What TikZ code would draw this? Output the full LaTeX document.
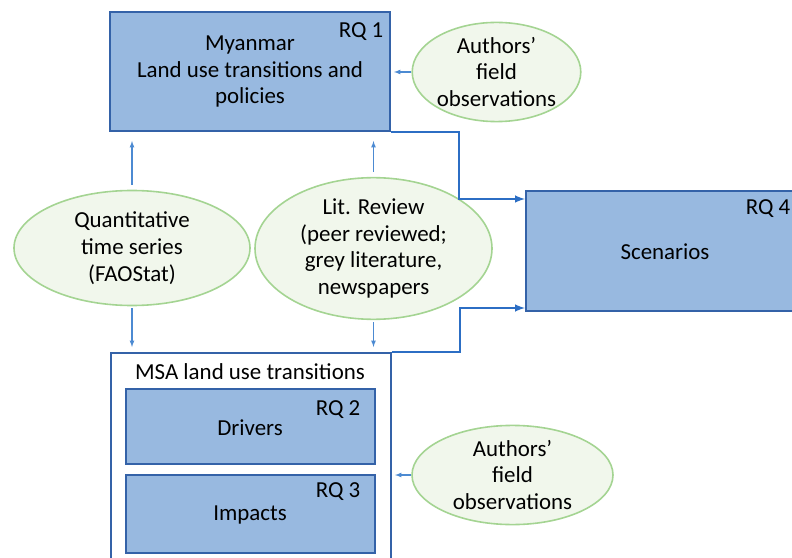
\documentclass[tikz,border=0pt]{standalone}
\usepackage{fontspec}
\setmainfont{Carlito}
\usetikzlibrary{shapes.geometric}
\definecolor{boxfill}{RGB}{152,185,224}
\definecolor{boxline}{RGB}{52,98,168}
\definecolor{linkblue}{RGB}{44,110,196}
\definecolor{arrblue}{RGB}{76,138,210}
\definecolor{ovalfill}{RGB}{241,247,236}
\definecolor{ovalline}{RGB}{164,212,146}

\begin{document}
\begin{tikzpicture}[x=1bp,y=-1bp,
	every node/.style={font=\fontsize{23}{27}\selectfont, align=center, inner sep=0pt},
	rq/.style={fill=boxfill, draw=boxline, line width=2bp},
	frame/.style={fill=white, draw=boxline, line width=2bp},
	oval/.style={ellipse, fill=ovalfill, draw=ovalline, line width=1.6bp},
	link/.style={draw=linkblue, line width=2.4bp, -latex},
	feed/.style={draw=arrblue, line width=1.2bp, -latex}]
	\useasboundingbox (0,0) rectangle (792,558);

	% top box and its sources
	\node (myan) [rq, minimum width=280bp, minimum height=119bp] at (250,71.5) {Myanmar\\Land use transitions and\\policies};
	\node (rq1) at (361,32) {RQ 1};
	\node (field1) [oval, minimum width=167bp, minimum height=96bp] at (496.5,72) {Authors'\\field\\observations};
	\draw[feed, shorten >=3bp] (field1.west) -- (myan.east |- field1.west);

	\node (quant) [oval, minimum width=236bp, minimum height=115bp] at (132,248) {Quantitative\\time series\\(FAOStat)};
	\node (lit) [oval, minimum width=237bp, minimum height=113bp] at (373.5,248.5) {Lit. Review\\(peer reviewed;\\grey literature,\\newspapers};

	% bottom box
	\node (msa) [frame, minimum width=280bp, minimum height=218bp, anchor=north west] at (110,352) {};
	\node (msatitle) at (250,372) {MSA land use transitions};
	\node (drv) [rq, minimum width=249bp, minimum height=75bp] at (250.5,426.5) {};
	\node at (250,428) {Drivers};
	\node (rq2) at (338,410) {RQ 2};
	\node (imp) [rq, minimum width=249bp, minimum height=78bp] at (250.5,514) {};
	\node at (250,515) {Impacts};
	\node (rq3) at (338,492) {RQ 3};
	\node (field2) [oval, minimum width=201bp, minimum height=94bp] at (512.5,475) {Authors'\\field\\observations};
	\draw[feed, shorten >=3bp] (field2.west) -- (msa.east |- field2.west);

	% scenarios
	\node (scen) [rq, minimum width=280bp, minimum height=120bp, anchor=north west] at (525,190) {};
	\node at (665,252) {Scenarios};
	\node (rq4) at (768,209) {RQ 4};

	% arrows
	\foreach \src in {quant, lit} {
		\draw[feed, shorten <=5bp, shorten >=9bp] (\src.north) -- (\src.north |- myan.south);
		\draw[feed, shorten <=2bp, shorten >=5bp] (\src.south) -- (\src.south |- msa.north);
	}
	\draw[link] (myan.south east) -- ++(68,0) |- ([yshift=52bp]scen.west);
	\draw[link] (msa.north east) -- ++(68,0) |- ([yshift=-57bp]scen.west);
\end{tikzpicture}
\end{document}
